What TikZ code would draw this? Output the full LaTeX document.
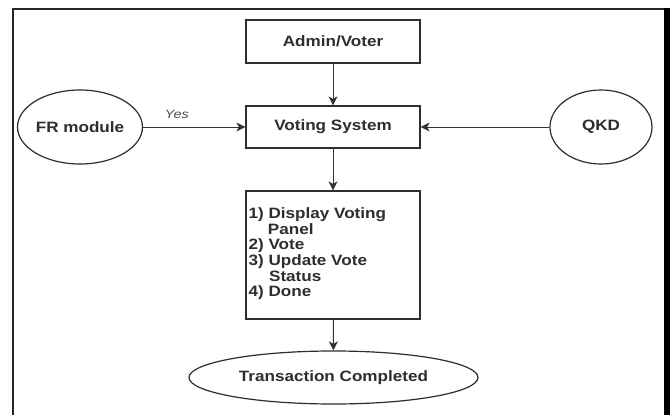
\documentclass[tikz,border=0pt]{standalone}
\usepackage{fontspec}
\usepackage{graphicx}
\setmainfont{Liberation Sans}
\usetikzlibrary{arrows.meta,shapes.geometric}

% bold labels, set slightly wider than the font's natural shape
\newcommand{\wlabel}[1]{\scalebox{1.14}[1]{#1}}

\tikzset{
  ink/.style={draw=black!82, line width=1.2pt},
  boxnode/.style={ink, rectangle, minimum width=174pt, minimum height=43pt,
    inner sep=0pt, font=\fontsize{15}{15.4}\selectfont\bfseries, text=black!82},
  roundnode/.style={ink, ellipse, inner sep=0pt,
    font=\fontsize{15}{15.4}\selectfont\bfseries, text=black!82},
  flow/.style={draw=black!80, line width=1pt,
    -{Stealth[length=9pt,width=9pt,inset=2.5pt]}},
}

\begin{document}
\begin{tikzpicture}[x=1pt,y=1pt]
  \useasboundingbox (0,0) rectangle (670,-415);
  \fill[white] (0,0) rectangle (670,-415);

  % page frame
  \draw[black!85, line width=2pt] (13,-415) -- (13,-8.5) -- (665,-8.5);
  \fill[black] (664,-7.5) rectangle (670,-415);

  % main column
  \node[boxnode] (admin) at (333,-41.5) {\wlabel{Admin/Voter}};
  \node[boxnode, minimum height=42pt] (vote) at (333,-127) {\wlabel{Voting System}};
  \node[boxnode, minimum height=128pt] (steps) at (333,-255) {};
  \node[anchor=west, inner sep=0pt, font=\fontsize{15}{15.6}\selectfont\bfseries,
        text=black!82] (steplist) at ([xshift=3pt,yshift=0.5pt]steps.west)
    {\scalebox{1.14}[1]{\begin{tabular}{@{}l@{}}
      1) Display Voting\\
      \hspace*{17pt}Panel\\
      2) Vote\\
      3) Update Vote\\
      \hspace*{18pt}Status\\
      4) Done
    \end{tabular}}};
  \node[roundnode, minimum width=289pt, minimum height=53pt] (done) at (333.5,-377.5)
    {\wlabel{Transaction Completed}};

  % side inputs
  \node[roundnode, minimum width=102pt, minimum height=74pt] (fr) at (80,-127)
    {\wlabel{FR module}};
  \node[roundnode, minimum width=102pt, minimum height=74pt] (qkd) at (601,-127)
    {\wlabel{QKD}};

  % connectors
  \draw[flow] (admin) -- (vote);
  \draw[flow] (vote) -- (steps);
  \draw[flow] (steps) -- (done);
  \draw[flow] (fr) -- node[pos=0.33, above=7.5pt, inner sep=0pt,
      font=\fontsize{12}{14}\selectfont\itshape, text=black!70] (yes)
      {\scalebox{1.2}[1]{Yes}} (vote);
  \draw[flow] (qkd) -- (vote);
\end{tikzpicture}
\end{document}
